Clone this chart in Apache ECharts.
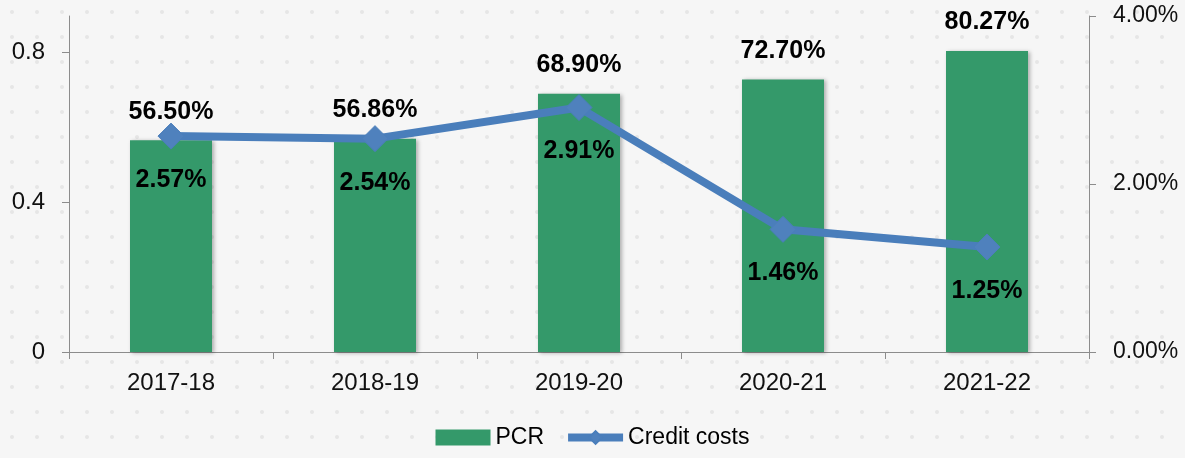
<!DOCTYPE html>
<html>
<head>
<meta charset="utf-8">
<script src="https://cdn.jsdelivr.net/npm/echarts@6/dist/echarts.min.js"></script>
<style>
html,body{margin:0;padding:0;background:#f6f6f6;}
#chart{width:1185px;height:458px;}
</style>
</head>
<body>
<div id="chart"></div>
<script>
var categories = ['2017-18', '2018-19', '2019-20', '2020-21', '2021-22'];
var pcrValues = [0.5650, 0.5686, 0.6890, 0.7270, 0.8027];
var creditCosts = [0.0257, 0.0254, 0.0291, 0.0146, 0.0125];
var leftTicks = [0, 0.4, 0.8];
var rightTicks = ['0.00%', '2.00%', '4.00%'];

// subtle dotted background
var pat = document.createElement('canvas');
pat.width = 25; pat.height = 25;
var pc = pat.getContext('2d');
pc.fillStyle = '#f6f6f6'; pc.fillRect(0, 0, 25, 25);
pc.fillStyle = '#e6e6e6';
pc.beginPath(); pc.arc(12, 12, 2, 0, Math.PI * 2); pc.fill();

var FONT = 'Liberation Sans';
var chart = echarts.init(document.getElementById('chart'), null, {renderer: 'canvas'});
chart.setOption({
  backgroundColor: {image: pat, repeat: 'repeat'},
  animation: false,
  textStyle: {fontFamily: FONT},
  grid: {left: 69, right: 96, top: 16, bottom: 106},
  legend: {
    bottom: 4,
    left: 'center',
    itemWidth: 55,
    itemHeight: 16,
    itemGap: 20,
    textStyle: {fontFamily: FONT, fontSize: 23, color: '#000'},
    data: [
      {name: 'PCR', icon: 'rect'},
      {name: 'Credit costs', lineStyle: {width: 8}}
    ]
  },
  xAxis: {
    type: 'category',
    data: categories,
    boundaryGap: true,
    axisLine: {show: true, lineStyle: {color: '#8c8c8c', width: 1}},
    axisTick: {show: true, length: 7, lineStyle: {color: '#8c8c8c'}},
    axisLabel: {fontSize: 24, color: '#111', margin: 19, fontFamily: FONT}
  },
  yAxis: [
    {
      type: 'value',
      min: 0,
      max: 0.896,
      interval: 0.4,
      splitLine: {show: false},
      axisLine: {show: true, lineStyle: {color: '#8c8c8c', width: 1}},
      axisTick: {show: true, length: 7, lineStyle: {color: '#8c8c8c'}},
      axisLabel: {
        fontSize: 24, color: '#111', margin: 24, fontFamily: FONT,
        showMaxLabel: false,
        formatter: function (v) {
          for (var i = 0; i < leftTicks.length; i++) {
            if (Math.abs(leftTicks[i] - v) < 1e-6) return String(leftTicks[i]);
          }
          return '';
        }
      }
    },
    {
      type: 'value',
      min: 0,
      max: 0.04,
      interval: 0.02,
      splitLine: {show: false},
      axisLine: {show: true, lineStyle: {color: '#8c8c8c', width: 1}},
      axisTick: {show: true, length: 7, lineStyle: {color: '#8c8c8c'}},
      axisLabel: {
        fontSize: 23, color: '#111', margin: 24, fontFamily: FONT,
        formatter: function (v) {
          var idx = Math.round(v / 0.02);
          return rightTicks[idx] !== undefined ? rightTicks[idx] : '';
        }
      }
    }
  ],
  series: [
    {
      name: 'PCR',
      type: 'bar',
      yAxisIndex: 0,
      data: pcrValues,
      barWidth: 82,
      itemStyle: {
        color: '#34996a',
        shadowBlur: 4,
        shadowColor: 'rgba(0,0,0,0.3)',
        shadowOffsetX: 2,
        shadowOffsetY: 1
      },
      label: {
        show: true,
        position: 'top',
        distance: 16,
        fontFamily: FONT,
        fontSize: 25,
        fontWeight: 'bold',
        color: '#000',
        formatter: function (p) { return (p.value * 100).toFixed(2) + '%'; }
      },
      z: 2
    },
    {
      name: 'Credit costs',
      type: 'line',
      yAxisIndex: 1,
      data: creditCosts,
      symbol: 'diamond',
      symbolSize: 26,
      lineStyle: {color: '#4a7ebb', width: 8},
      itemStyle: {color: '#4f81bd', borderColor: '#4a7ebb', borderWidth: 1},
      label: {
        show: true,
        position: 'bottom',
        distance: 18,
        fontFamily: FONT,
        fontSize: 25,
        fontWeight: 'bold',
        color: '#000',
        formatter: function (p) { return (p.value * 100).toFixed(2) + '%'; }
      },
      z: 3
    }
  ]
});
</script>
</body>
</html>
